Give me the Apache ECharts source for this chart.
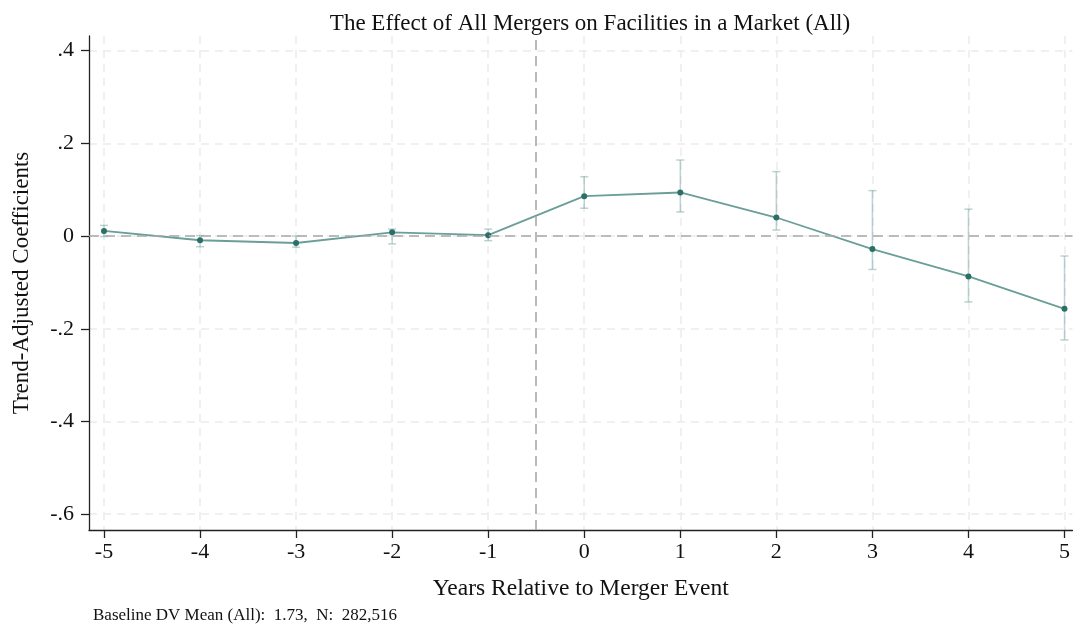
<!DOCTYPE html>
<html>
<head>
<meta charset="utf-8">
<script src="https://cdn.jsdelivr.net/npm/echarts@6/dist/echarts.min.js"></script>
<style>
  html, body { margin: 0; padding: 0; background: #fff; }
  #container { width: 1073px; height: 629px; }
</style>
</head>
<body>
<div id="container"></div>
<script>
var dom = document.getElementById('container');
var myChart = echarts.init(dom, null, { renderer: 'canvas' });

// years relative to merger event
var years = [-5, -4, -3, -2, -1, 0, 1, 2, 3, 4, 5];
// trend-adjusted coefficients
var coefs = [0.011, -0.009, -0.015, 0.008, 0.002, 0.086, 0.094, 0.040, -0.028, -0.087, -0.157];
// confidence interval bounds
var ciLow = [-0.001, -0.023, -0.024, -0.017, -0.010, 0.060, 0.052, 0.013, -0.072, -0.142, -0.224];
var ciHigh = [0.023, 0.001, 0.000, 0.015, 0.015, 0.128, 0.164, 0.139, 0.098, 0.058, -0.043];
var yTicks = [-0.6, -0.4, -0.2, 0, 0.2, 0.4];

var serif = 'Liberation Serif';
var lineColor = '#6a9e99';
var dotColor = '#2b7068';
var ciColor = 'rgba(106,158,153,0.45)';

var linePts = years.map(function (x, i) { return [x, coefs[i]]; });
var ciPts = years.map(function (x, i) { return [x, ciLow[i], ciHigh[i]]; });

function fmtY(v) {
    if (Math.abs(v) < 1e-9) return '0';
    var s = (Math.round(v * 10) / 10).toString();
    return s.replace('0.', '.');
}

function renderCI(params, api) {
    var x = api.value(0);
    var lo = api.coord([x, api.value(1)]);
    var hi = api.coord([x, api.value(2)]);
    var hw = 4;
    var st = { stroke: ciColor, lineWidth: 1.5 };
    return {
        type: 'group',
        children: [
            { type: 'line', shape: { x1: lo[0], y1: lo[1], x2: hi[0], y2: hi[1] }, style: st },
            { type: 'line', shape: { x1: lo[0] - hw, y1: lo[1], x2: lo[0] + hw, y2: lo[1] }, style: st },
            { type: 'line', shape: { x1: hi[0] - hw, y1: hi[1], x2: hi[0] + hw, y2: hi[1] }, style: st }
        ]
    };
}

var option = {
    backgroundColor: '#fff',
    animation: false,
    title: {
        text: 'The Effect of All Mergers on Facilities in a Market (All)',
        left: 585, top: 7, textAlign: 'center',
        textStyle: { fontFamily: serif, fontSize: 23, fontWeight: 'normal', color: '#111' }
    },
    grid: { left: 89, right: 0, top: 36, bottom: 99 },
    xAxis: {
        type: 'value', min: -5.156, max: 5.083,
        name: 'Years Relative to Merger Event',
        nameLocation: 'middle', nameGap: 47,
        nameTextStyle: { fontFamily: serif, fontSize: 23.5, color: '#111' },
        axisLine: { show: true, onZero: false, lineStyle: { color: '#222', width: 1.3 } },
        axisTick: { show: true, length: 8, customValues: years, lineStyle: { color: '#222', width: 1.3 } },
        axisLabel: { customValues: years, margin: 11, fontFamily: serif, fontSize: 22, color: '#111' },
        splitLine: { show: true, lineStyle: { color: '#ececec', type: [8, 6], width: 1.5 } }
    },
    yAxis: {
        type: 'value', min: -0.634, max: 0.4315,
        name: 'Trend-Adjusted Coefficients',
        nameLocation: 'middle', nameGap: 56,
        nameTextStyle: { fontFamily: serif, fontSize: 23, color: '#111' },
        axisLine: { show: true, onZero: false, lineStyle: { color: '#222', width: 1.3 } },
        axisTick: { show: true, length: 8, customValues: yTicks, lineStyle: { color: '#222', width: 1.3 } },
        axisLabel: { customValues: yTicks, margin: 15, formatter: fmtY, fontFamily: serif, fontSize: 22, color: '#111' },
        splitLine: { show: true, lineStyle: { color: '#ececec', type: [8, 6], width: 1.5 } }
    },
    graphic: [{
        type: 'text', left: 93, top: 607,
        style: { text: 'Baseline DV Mean (All):  1.73,  N:  282,516', font: '17px "Liberation Serif"', fill: '#111' }
    }],
    series: [{
        type: 'custom',
        renderItem: renderCI,
        data: ciPts,
        z: 2,
        silent: true
    }, {
        type: 'line',
        data: linePts,
        symbol: 'circle', symbolSize: 6,
        lineStyle: { color: lineColor, width: 1.8 },
        itemStyle: { color: dotColor },
        z: 3,
        markLine: {
            silent: true, symbol: 'none', label: { show: false },
            lineStyle: { color: '#a8a8a8', type: [10, 6], width: 1.6 },
            data: [{ xAxis: -0.5 }, { yAxis: 0 }]
        }
    }]
};

myChart.setOption(option);
</script>
</body>
</html>
